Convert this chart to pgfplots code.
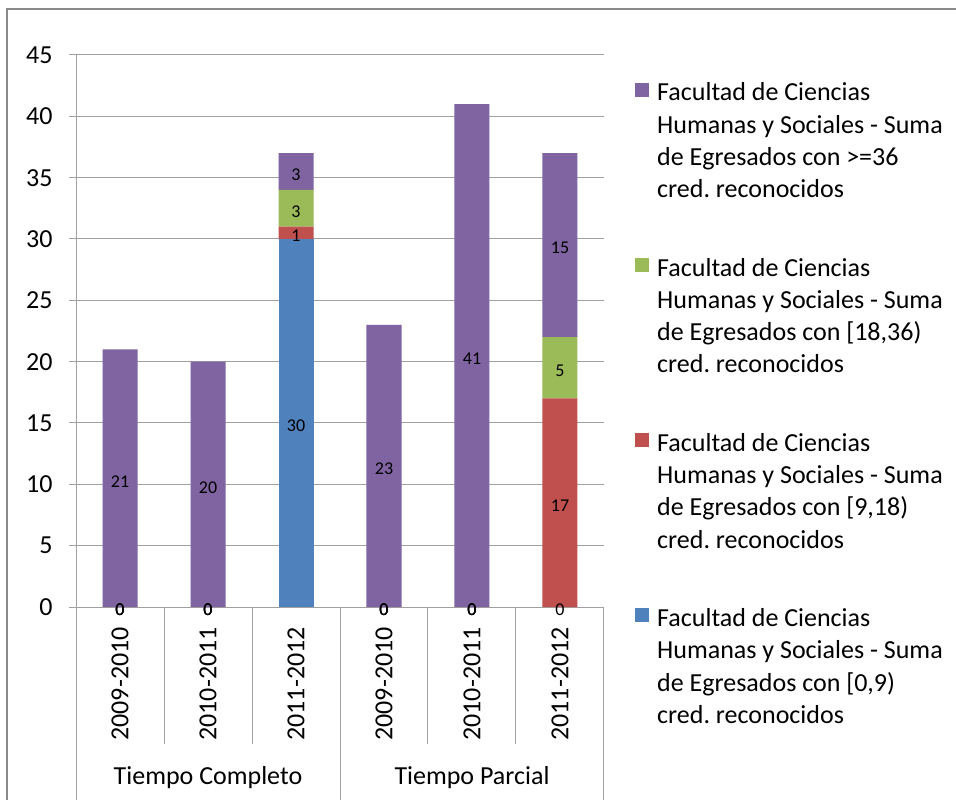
\documentclass[border=0pt]{standalone}
\usepackage{pgfplots}
\pgfplotsset{compat=1.18}
\usepackage{pgfplotstable}
\usepackage{fontspec}
\setmainfont{Carlito}
\definecolor{cblue}{HTML}{4F81BD}
\definecolor{cred}{HTML}{C0504D}
\definecolor{cgreen}{HTML}{9BBB59}
\definecolor{cpurple}{HTML}{8064A2}
\definecolor{gridgray}{HTML}{A0A0A0}
\definecolor{framegray}{HTML}{8A8A8A}
\pgfplotstableread{
x blue red green purple
0 0 0 0 21
1 0 0 0 20
2 30 1 3 3
3 0 0 0 23
4 0 0 0 41
5 0 17 5 15
}\datatable
\pgfplotsset{
  seglabels/.style={
    draw=none, mark=none,
    nodes near coords={\pgfplotspointmeta},
    point meta=explicit symbolic,
    every node near coord/.append style={anchor=center,
      font=\fontsize{18bp}{20bp}\selectfont, text=black, inner sep=0pt},
  },
}
\newcommand{\legtext}[1]{\begin{tabular}[t]{@{}l@{}}Facultad de Ciencias\\Humanas y Sociales - Suma\\de Egresados con #1\\cred. reconocidos\end{tabular}}
\begin{document}
\frenchspacing
\begin{tikzpicture}
\useasboundingbox (0,0) rectangle (956bp,800bp);
\fill[white] (0,0) rectangle (956bp,800bp);
\draw[framegray, line width=2.5bp] (7bp,0) -- (7bp,791bp) -- (956bp,791bp);
\begin{axis}[
  at={(76bp,193bp)}, anchor=south west,
  width=528bp, height=552bp, scale only axis,
  ybar stacked, bar width=35bp,
  xmin=-0.5, xmax=5.5, ymin=0, ymax=45,
  clip=false,
  xtick={0,...,5},
  xticklabels={2009-2010,2010-2011,2011-2012,2009-2010,2010-2011,2011-2012},
  ytick={0,5,...,45},
  axis lines=left, axis line style={gridgray, line width=1bp, -},
  ymajorgrids, grid style={gridgray, line width=1bp},
  major tick length=7bp, ytick align=outside, xtick align=inside,
  ytick style={gridgray, line width=1bp}, xtick style={draw=none},
  /pgf/number format/assume math mode=true,
  tick label style={font=\fontsize{26bp}{31bp}\selectfont, text=black},
  yticklabel style={anchor=east, xshift=-13bp},
  xticklabel style={rotate=90, anchor=east, inner sep=0pt},
  xticklabel shift=20bp,
  reverse legend,
  legend cell align=left,
  legend image code/.code={\path[draw=none, fill=none] (0bp,-60bp) rectangle (14bp,60bp); \fill[#1, draw=none] (0bp,46bp) rectangle (14bp,60bp);},
  legend style={at={(1,1)}, anchor=north west, xshift=31bp, yshift=-23bp,
    draw=none, fill=none, inner sep=0pt, row sep=46bp,
    font=\fontsize{26bp}{32.3bp}\selectfont, text=black,
    nodes={inner sep=0pt, text depth={}},
    /tikz/every odd column/.append style={column sep=8bp}},
]
\addplot[fill=cblue, draw=none] table[x=x, y=blue]{\datatable};
\addlegendentry{\legtext{[0,9)}}
\addplot[fill=cred, draw=none] table[x=x, y=red]{\datatable};
\addlegendentry{\legtext{[9,18)}}
\addplot[fill=cgreen, draw=none] table[x=x, y=green]{\datatable};
\addlegendentry{\legtext{[18,36)}}
\addplot[fill=cpurple, draw=none] table[x=x, y=purple]{\datatable};
\addlegendentry{\legtext{>=36}}
\pgfplotsinvokeforeach{0.5,1.5,3.5,4.5}{
  \draw[gridgray, line width=1bp] (axis cs:#1,0) -- ++(0bp,-137bp);
}
\pgfplotsinvokeforeach{-0.5,2.5,5.5}{
  \draw[gridgray, line width=1bp] (axis cs:#1,0) -- ++(0bp,-195bp);
}
\node[anchor=base, font=\fontsize{26bp}{31bp}\selectfont] at ([yshift=-177bp]axis cs:1,0) {Tiempo Completo};
\node[anchor=base, font=\fontsize{26bp}{31bp}\selectfont] at ([yshift=-177bp]axis cs:4,0) {Tiempo Parcial};
\end{axis}
% data labels, centred in each segment, drawn on top of all bars
\begin{axis}[
  at={(76bp,190bp)}, anchor=south west,
  width=528bp, height=552bp, scale only axis,
  xmin=-0.5, xmax=5.5, ymin=0, ymax=45,
  clip=false, axis lines=none, xtick=\empty, ytick=\empty]
\addplot[seglabels] table[x=x, y expr=\thisrow{blue}/2, meta=blue]{\datatable};
\addplot[seglabels] table[x=x, y expr=\thisrow{blue}+\thisrow{red}/2, meta=red]{\datatable};
\addplot[seglabels] table[x=x, y expr=\thisrow{blue}+\thisrow{red}+\thisrow{green}/2, meta=green]{\datatable};
\addplot[seglabels] table[x=x, y expr=\thisrow{blue}+\thisrow{red}+\thisrow{green}+\thisrow{purple}/2, meta=purple]{\datatable};
\end{axis}
\end{tikzpicture}
\end{document}
